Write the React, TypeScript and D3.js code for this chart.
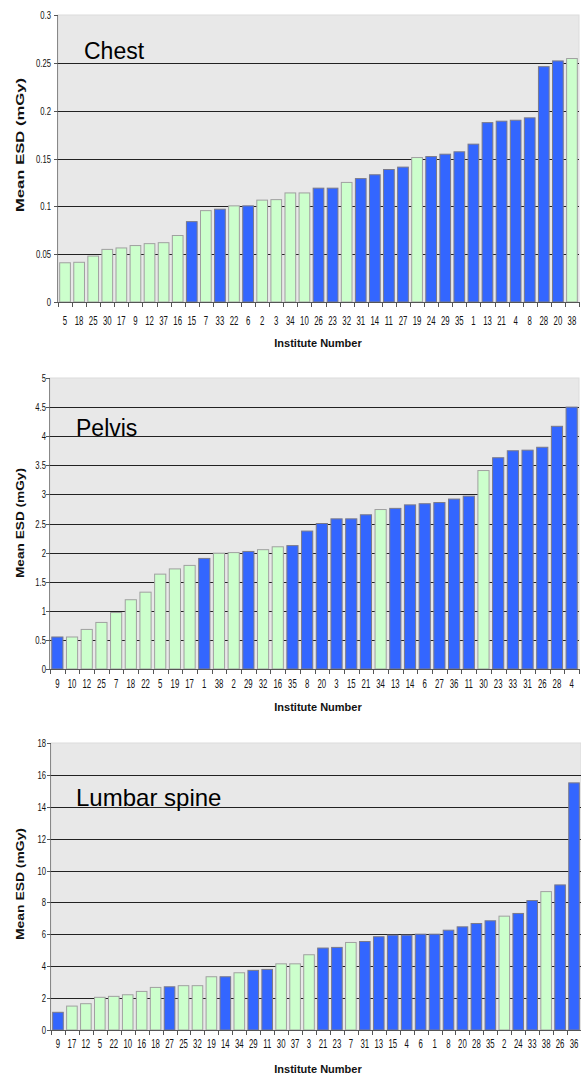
import React, { useEffect, useRef } from 'react';
import * as d3 from 'd3';

// Chest
const chestInstitutes = ['5', '18', '25', '30', '17', '9', '12', '37', '16', '15', '7', '33', '22', '6', '2', '3', '34', '10', '26', '23', '32', '31', '14', '11', '27', '19', '24', '29', '35', '1', '13', '21', '4', '8', '28', '20', '38'];
const chestValues = [0.041, 0.0415, 0.048, 0.055, 0.0565, 0.059, 0.061, 0.062, 0.0695, 0.084, 0.0955, 0.097, 0.1005, 0.1005, 0.1065, 0.107, 0.114, 0.114, 0.119, 0.119, 0.125, 0.129, 0.133, 0.1385, 0.141, 0.151, 0.152, 0.1545, 0.157, 0.165, 0.1875, 0.189, 0.19, 0.1925, 0.246, 0.252, 0.2545];
const chestBlue = ['15', '33', '6', '26', '23', '31', '14', '11', '27', '24', '29', '35', '1', '13', '21', '4', '8', '28', '20'];
const chestTicks = [0, 0.05, 0.1, 0.15, 0.2, 0.25, 0.3];

// Pelvis
const pelvisInstitutes = ['9', '10', '12', '25', '7', '18', '22', '5', '19', '17', '1', '38', '2', '29', '32', '16', '35', '8', '20', '3', '15', '21', '34', '13', '14', '6', '27', '36', '11', '30', '23', '33', '31', '26', '28', '4'];
const pelvisValues = [0.55, 0.55, 0.68, 0.8, 0.97, 1.19, 1.32, 1.63, 1.72, 1.78, 1.9, 1.99, 2.0, 2.02, 2.05, 2.1, 2.12, 2.37, 2.5, 2.58, 2.58, 2.65, 2.74, 2.76, 2.82, 2.84, 2.86, 2.92, 2.97, 3.41, 3.63, 3.75, 3.76, 3.81, 4.17, 4.5];
const pelvisBlue = ['9', '1', '29', '35', '8', '20', '3', '15', '21', '13', '14', '6', '27', '36', '11', '23', '33', '31', '26', '28', '4'];
const pelvisTicks = [0, 0.5, 1, 1.5, 2, 2.5, 3, 3.5, 4, 4.5, 5];

// Lumbar spine
const lumbarInstitutes = ['9', '17', '12', '5', '22', '10', '16', '18', '27', '25', '32', '19', '14', '34', '29', '11', '30', '37', '3', '21', '23', '7', '31', '13', '15', '4', '6', '1', '8', '20', '28', '35', '2', '24', '33', '38', '26', '36'];
const lumbarValues = [1.11, 1.5, 1.65, 2.05, 2.11, 2.21, 2.42, 2.67, 2.71, 2.78, 2.78, 3.34, 3.34, 3.59, 3.74, 3.8, 4.15, 4.15, 4.72, 5.14, 5.18, 5.49, 5.55, 5.85, 5.95, 5.95, 6.01, 6.01, 6.26, 6.47, 6.68, 6.85, 7.14, 7.31, 8.12, 8.68, 9.1, 15.5];
const lumbarBlue = ['9', '27', '14', '29', '11', '21', '23', '31', '13', '15', '4', '6', '1', '8', '20', '28', '35', '24', '33', '26', '36'];
const lumbarTicks = [0, 2, 4, 6, 8, 10, 12, 14, 16, 18];

const panels = [
  { title: 'Chest', cats: chestInstitutes, values: chestValues, blue: chestBlue, ticks: chestTicks,
    left: 58, right: 579, top: 15, bottom: 302, titleX: 84, titleY: 59, titleSize: 23,
    yGap: 7, xLabelDy: 23, xTitleDy: 45, yTitleY: 145, yTitleLen: 134 },
  { title: 'Pelvis', cats: pelvisInstitutes, values: pelvisValues, blue: pelvisBlue, ticks: pelvisTicks,
    left: 50, right: 579, top: 378, bottom: 669, titleX: 76, titleY: 436, titleSize: 23,
    yGap: 4, xLabelDy: 19, xTitleDy: 42, yTitleY: 523, yTitleLen: 110 },
  { title: 'Lumbar spine', cats: lumbarInstitutes, values: lumbarValues, blue: lumbarBlue, ticks: lumbarTicks,
    left: 51, right: 581, top: 743, bottom: 1030, titleX: 76, titleY: 806, titleSize: 24,
    yGap: 5, xLabelDy: 18, xTitleDy: 43, yTitleY: 884, yTitleLen: 112 },
];

const sans = '"Liberation Sans", Arial, sans-serif';

const App = () => {
  const svgRef = useRef<SVGSVGElement>(null);

  useEffect(() => {
    const svg = d3.select(svgRef.current);
    svg.selectAll('*').remove();

    panels.forEach(p => {
      const g = svg.append('g');
      const maxTick = p.ticks[p.ticks.length - 1];

      const x = d3.scaleBand<string>()
        .domain(p.cats)
        .range([p.left, p.right])
        .paddingInner(0.24)
        .paddingOuter(0.12);

      const y = d3.scaleLinear()
        .domain([0, maxTick])
        .range([p.bottom, p.top]);

      // fond du graphique
      g.append('rect')
        .attr('x', p.left)
        .attr('y', p.top)
        .attr('width', p.right - p.left)
        .attr('height', p.bottom - p.top)
        .attr('fill', '#e8e8e8')
        .attr('stroke', '#dcdcdc');

      // grille
      g.selectAll('.grid')
        .data(p.ticks.filter(t => t > 0 && t < maxTick))
        .enter()
        .append('line')
        .attr('x1', p.left)
        .attr('x2', p.right)
        .attr('y1', d => Math.round(y(d)) + 0.5)
        .attr('y2', d => Math.round(y(d)) + 0.5)
        .attr('stroke', '#222')
        .attr('stroke-width', 1);

      // barres
      g.selectAll('.bar')
        .data(p.cats)
        .enter()
        .append('rect')
        .attr('x', d => x(d)!)
        .attr('y', (d, i) => y(p.values[i]))
        .attr('width', x.bandwidth())
        .attr('height', (d, i) => p.bottom - y(p.values[i]))
        .attr('fill', d => (p.blue.includes(d) ? '#3366ff' : '#ccffcc'))
        .attr('stroke', d => (p.blue.includes(d) ? '#7a7a8a' : '#a0a0a0'))
        .attr('stroke-width', 1);

      // axe X
      const step = x.step();
      const xAxis = g.append('g').attr('transform', `translate(0, ${p.bottom})`);
      xAxis.append('line')
        .attr('x1', p.left).attr('x2', p.right)
        .attr('y1', 0.5).attr('y2', 0.5)
        .attr('stroke', '#555');
      xAxis.selectAll('.tk')
        .data(d3.range(p.cats.length + 1))
        .enter()
        .append('line')
        .attr('x1', i => Math.round(p.left + i * step) + 0.5)
        .attr('x2', i => Math.round(p.left + i * step) + 0.5)
        .attr('y1', 0)
        .attr('y2', 5)
        .attr('stroke', '#555');
      xAxis.selectAll('.lbl')
        .data(p.cats)
        .enter()
        .append('text')
        .attr('transform', d => `translate(${x(d)! + x.bandwidth() / 2}, ${p.xLabelDy}) scale(0.65, 1)`)
        .attr('text-anchor', 'middle')
        .attr('font-family', sans)
        .attr('font-size', 12)
        .attr('fill', '#111')
        .text(d => d);

      // axe Y
      g.append('line')
        .attr('x1', p.left - 0.5).attr('x2', p.left - 0.5)
        .attr('y1', p.top).attr('y2', p.bottom)
        .attr('stroke', '#888');
      g.selectAll('.ytk')
        .data(p.ticks)
        .enter()
        .append('line')
        .attr('x1', p.left - 4)
        .attr('x2', p.left)
        .attr('y1', d => Math.round(y(d)) + 0.5)
        .attr('y2', d => Math.round(y(d)) + 0.5)
        .attr('stroke', '#555');
      g.selectAll('.ylbl')
        .data(p.ticks)
        .enter()
        .append('text')
        .attr('transform', d => `translate(${p.left - p.yGap}, ${y(d) + 4}) scale(0.7, 1)`)
        .attr('text-anchor', 'end')
        .attr('font-family', sans)
        .attr('font-size', 11)
        .attr('fill', '#111')
        .text(d => String(+d.toFixed(3)));

      // titres des axes
      g.append('text')
        .attr('x', 318)
        .attr('y', p.bottom + p.xTitleDy)
        .attr('text-anchor', 'middle')
        .attr('font-family', sans)
        .attr('font-weight', 'bold')
        .attr('font-size', 11)
        .attr('fill', '#111')
        .text('Institute Number');

      g.append('text')
        .attr('transform', `translate(24, ${p.yTitleY}) rotate(-90)`)
        .attr('x', -p.yTitleLen / 2)
        .attr('textLength', p.yTitleLen)
        .attr('lengthAdjust', 'spacingAndGlyphs')
        .attr('font-family', sans)
        .attr('font-weight', 'bold')
        .attr('font-size', 11)
        .attr('fill', '#111')
        .text('Mean ESD (mGy)');

      // titre du panneau
      g.append('text')
        .attr('x', p.titleX)
        .attr('y', p.titleY)
        .attr('font-family', sans)
        .attr('font-size', p.titleSize)
        .attr('fill', '#000')
        .text(p.title);
    });
  }, []);

  return (
    <svg
      ref={svgRef}
      width={581}
      height={1076}
      style={{ position: 'absolute', left: 0, top: 0, background: '#fff' }}
    />
  );
};

export default App;
